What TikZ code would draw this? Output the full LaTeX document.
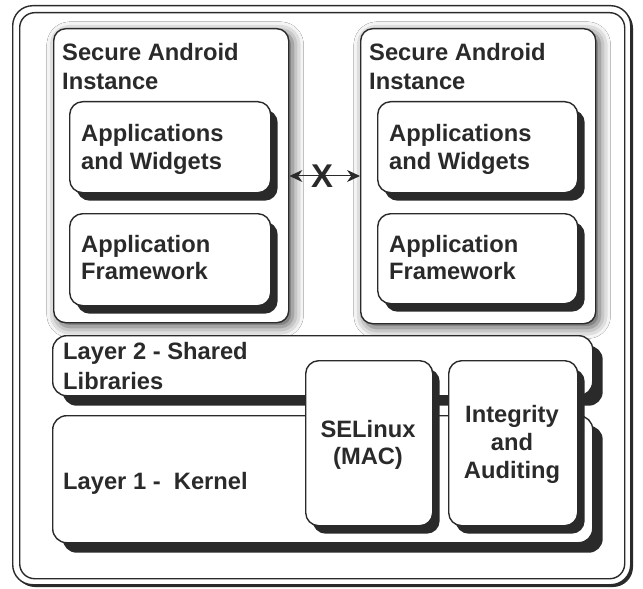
\documentclass[tikz,border=0pt]{standalone}
\usepackage{fontspec}
\setmainfont{Liberation Sans}
\usetikzlibrary{shadows,shadows.blur,arrows.meta}
\definecolor{ink}{HTML}{2A2A2A}
\begin{document}
\begin{tikzpicture}[x=1bp,y=-1bp,
  lbl/.style={font=\bfseries\fontsize{23.8}{29}\selectfont, text=ink, inner sep=0, align=left, anchor=north west},
  clbl/.style={lbl, align=center, anchor=north},
  framebox/.style={draw=ink, line width=1.4bp, fill=white, inner sep=0, anchor=north west},
  instbox/.style={framebox, rounded corners=12bp, blur shadow={shadow xshift=4bp, shadow yshift=-4bp, shadow blur radius=11bp, shadow opacity=70}},
  hardbox/.style={framebox, rounded corners=13bp, drop shadow={shadow xshift=7bp, shadow yshift=-8bp, fill=ink, opacity=1}},
  layerbox/.style={framebox, rounded corners=14bp, drop shadow={shadow xshift=10bp, shadow yshift=-10bp, fill=ink, opacity=1}},
  arr/.style={ink, line width=1bp, {Stealth[length=13bp,width=12bp]}-{Stealth[length=13bp,width=12bp]}}
]
\useasboundingbox (0,0) rectangle (643,589);
% outer frame
\fill[ink, rounded corners=20bp] (15,8) rectangle (633,587);
\node[framebox, rounded corners=20bp, minimum width=618bp, minimum height=579bp] (outer) at (12,5) {};
\node[draw=ink, line width=1.4bp, rounded corners=15bp, inner sep=0, anchor=north west, minimum width=605bp, minimum height=566bp] (inner) at (19,12) {};

% secure instances
\node[instbox, minimum width=235bp, minimum height=294bp] (inst1) at (53,28) {};
\node[instbox, minimum width=235bp, minimum height=295bp] (inst2) at (360,28) {};
\node[lbl] (t1) at (62,43) {Secure Android\\Instance};
\node[lbl] (t2) at (369,43) {Secure Android\\Instance};

% inner boxes
\node[hardbox, minimum width=201bp, minimum height=91bp] (aw1) at (69,101) {};
\node[hardbox, minimum width=201bp, minimum height=92bp] (fw1) at (69,213) {};
\node[hardbox, minimum width=200bp, minimum height=91bp] (aw2) at (377,101) {};
\node[hardbox, minimum width=200bp, minimum height=90bp] (fw2) at (377,213) {};
\node[lbl, font=\bfseries\fontsize{23.8}{28}\selectfont] (awt1) at (81,124) {Applications\\and Widgets};
\node[lbl, font=\bfseries\fontsize{23.8}{28}\selectfont] (awt2) at (389,124) {Applications\\and Widgets};
\node[lbl, font=\bfseries\fontsize{23.8}{27}\selectfont] (fwt1) at (81,235) {Application\\Framework};
\node[lbl, font=\bfseries\fontsize{23.8}{27}\selectfont] (fwt2) at (389,235) {Application\\Framework};

% isolation arrow
\draw[arr] (inst1.east |- 0,176) coordinate (a1) -- (inst2.west |- 0,176) coordinate (a2);
\node[inner sep=0, text=ink, font=\bfseries\fontsize{33}{33}\selectfont] (x) at (322,176) {X};

% layers
\node[layerbox, minimum width=540bp, minimum height=60bp] (l2) at (52,335) {};
\node[layerbox, minimum width=540bp, minimum height=127bp] (l1) at (52,415) {};
\node[lbl, font=\bfseries\fontsize{23.8}{30}\selectfont] (l2t) at (63,342) {Layer 2 - Shared\\Libraries};
\node[lbl] (l1t) at (63,472) {Layer 1 -\ \ Kernel};

% security modules
\node[hardbox, minimum width=127bp, minimum height=165bp] (se) at (305,360) {};
\node[hardbox, minimum width=129bp, minimum height=165bp] (ia) at (448,360) {};
\node[clbl, font=\bfseries\fontsize{23.8}{27}\selectfont] (set) at (368,420) {SELinux\\(MAC)};
\node[clbl, font=\bfseries\fontsize{23.8}{28}\selectfont] (iat) at (512,405) {Integrity\\and\\Auditing};
\end{tikzpicture}
\end{document}
